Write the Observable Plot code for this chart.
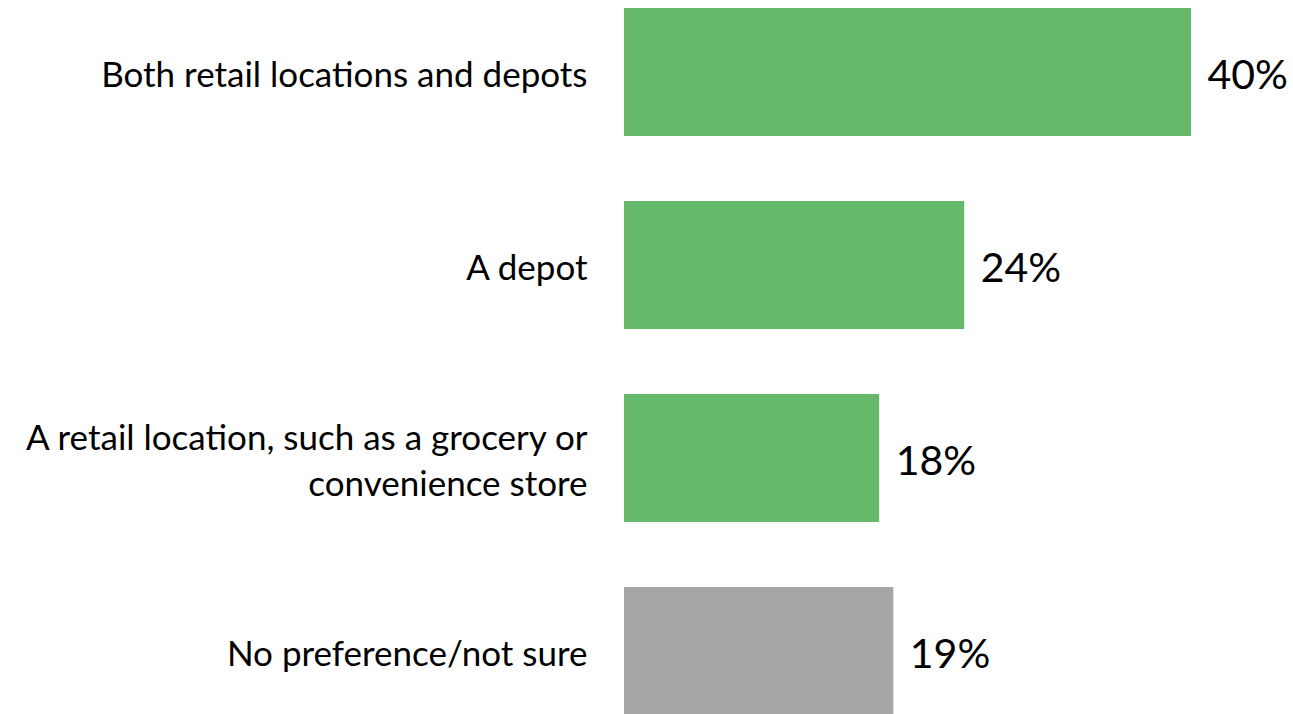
<!DOCTYPE html>
<html>
<head>
<meta charset="utf-8">
<script src="https://cdn.jsdelivr.net/npm/d3@7"></script>
<script src="https://cdn.jsdelivr.net/npm/@observablehq/plot@0.6"></script>
<style>
  html, body { margin: 0; padding: 0; background: #fff; }
  #chart { width: 1293px; height: 714px; overflow: hidden; }
</style>
</head>
<body>
<div id="chart"></div>
<script>
const categories = [
  "Both retail locations and depots",
  "A depot",
  "A retail location, such as a grocery or\nconvenience store",
  "No preference/not sure"
];
const values = [40, 24, 18, 19];
const barColors = ["#66b86a", "#66b86a", "#66b86a", "#a6a6a6"];

const data = categories.map((c, i) => ({category: c, value: values[i], color: barColors[i]}));

const chart = Plot.plot({
  width: 1293,
  height: 714,
  marginLeft: 624,
  marginRight: 102,
  marginTop: 7,
  marginBottom: -3,
  style: {fontFamily: "Lato, sans-serif", background: "#fff", color: "#000", overflow: "hidden"},
  x: {domain: [0, 40], axis: null},
  y: {domain: categories, paddingInner: 0.335, paddingOuter: 0, label: null},
  marks: [
    Plot.barX(data, {y: "category", x: "value", fill: "color"}),
    Plot.axisY({tickSize: 0, tickPadding: 37, fontSize: 35, label: null, lineHeight: 1.31}),
    Plot.text(data, {y: "category", x: "value", text: d => d.value + "%", textAnchor: "start", dx: 16, dy: 3, fontSize: 41, fill: "#000"})
  ]
});
document.getElementById("chart").appendChild(chart);
</script>
</body>
</html>
